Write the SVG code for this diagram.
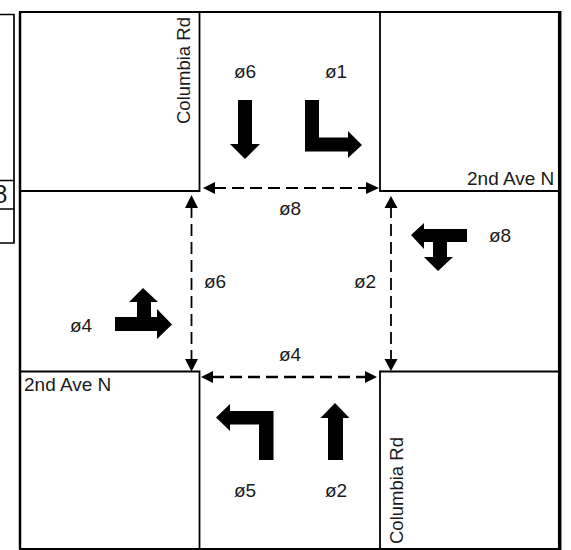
<svg xmlns="http://www.w3.org/2000/svg" width="571" height="550" viewBox="0 0 571 550">
<style>
text{font-family:"Liberation Sans",Arial,sans-serif;font-size:19px;fill:#1a1a1a}
.street{font-size:18.500px}
.thin{fill:none;stroke:#000;stroke-width:1.7}
.road{fill:none;stroke:#000;stroke-width:1.8}
.mv{fill:#000;stroke:none}
.dash{fill:none;stroke:#000;stroke-dasharray:12 6}
.head{fill:#000}
</style>
<rect width="571" height="550" fill="#fff"/>
<g id="table-fragment">
<path class="thin" d="M0 14.500H14V243H0M0 180.500H14M0 209H14"/>
<text x="-6.500" y="203" style="font-size:25px">8</text>
</g>
<g id="frame">
<path fill="none" stroke="#000" stroke-width="2" d="M19 12H560"/>
<path fill="none" stroke="#000" stroke-width="2.500" d="M20 12V549"/>
<path fill="none" stroke="#000" stroke-width="3.500" d="M559.700 11V550"/>
<path fill="none" stroke="#000" stroke-width="2" d="M19 549H560"/>
</g>
<g id="corner-nw"><path class="road" d="M199.500 12V191H20"/><text class="street" transform="translate(190 124) rotate(-90)">Columbia Rd</text></g>
<g id="corner-ne"><path class="road" d="M380 12V191H558"/><text x="467" y="185">2nd Ave N</text></g>
<g id="corner-sw"><path class="road" d="M20 371.500H199.500V549"/><text x="24" y="391">2nd Ave N</text></g>
<g id="corner-se"><path class="road" d="M380 549V371.500H558"/><text class="street" transform="translate(403 544) rotate(-90)">Columbia Rd</text></g>
<g id="phase-6-south"><path class="mv" d="M238 100H252V144H260L245 159 230 144H238Z"/><text x="234" y="78">ø6</text></g>
<g id="phase-1"><path class="mv" d="M305 100H319V137.500H348V131L362 145 348 158V151.500H305Z"/><text x="325" y="78">ø1</text></g>
<g id="phase-8-west"><path class="mv" d="M411 235L424 223V229H467V242H447V257H453L438 271 424 257H433V242H424V249Z"/><text x="489" y="242">ø8</text></g>
<g id="phase-4"><path class="mv" d="M115 317H137V302H129L143 288 158 302H151V317H157V309L172 324.500 157 339V331H115Z"/><text x="70" y="332">ø4</text></g>
<g id="phase-5"><path class="mv" d="M273.500 460H259V424.500H230V431L216 417.500 230 404V411H273.500Z"/><text x="234" y="497">ø5</text></g>
<g id="phase-2"><path class="mv" d="M328 460H343V418H349.500L335 403 320.500 418H328Z"/><text x="325" y="497">ø2</text></g>
<g id="ped-labels">
<text x="279" y="215">ø8</text>
<text x="204" y="288">ø6</text>
<text x="354" y="288">ø2</text>
<text x="279" y="361">ø4</text>
</g>
<g id="connectors">
<path class="dash" stroke-width="2" d="M214 188H368"/>
<path class="head" d="M203 188L215 182V194Z"/><path class="head" d="M379 188L366 182V194Z"/>
<path class="dash" stroke-width="2.400" d="M212 377H366"/>
<path class="head" d="M201 377L213 371V383Z"/><path class="head" d="M377 377L365 371V383Z"/>
<path class="dash" stroke-width="1.800" d="M191.500 206V360"/>
<path class="head" d="M191.500 195L185 208H198Z"/><path class="head" d="M191.500 371.500L185 359H198Z"/>
<path class="dash" stroke-width="1.800" d="M391 206V360"/>
<path class="head" d="M391 196L384.500 208H397.500Z"/><path class="head" d="M391 371L384.500 359H397.500Z"/>
</g>
</svg>
